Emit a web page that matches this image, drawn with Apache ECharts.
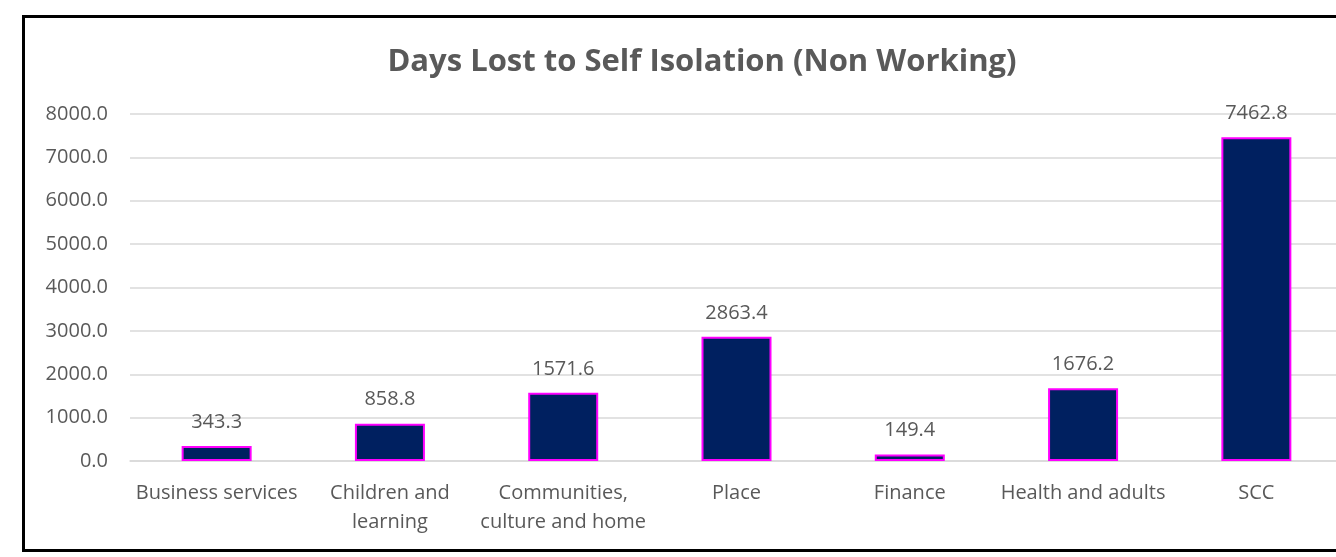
<!DOCTYPE html>
<html lang="en">
<head>
    <meta charset="UTF-8">
    <title>Days Lost to Self Isolation</title>
    <script src="https://cdn.jsdelivr.net/npm/echarts@6/dist/echarts.min.js"></script>
    <style>
        html, body { margin: 0; padding: 0; background: #fff; overflow: hidden; }
    </style>
</head>
<body>
<!-- the original chart is cut off on the right, so the canvas runs a little past the window -->
<div id="main" style="width: 1344px;height:557px;"></div>

<script>
    // categories and values
    const categories = ['Business services', 'Children and\nlearning', 'Communities,\nculture and home',
        'Place', 'Finance', 'Health and adults', 'SCC'];
    const daysLost = [343.3, 858.8, 1571.6, 2863.4, 149.4, 1676.2, 7462.8];
    const yTicks = { min: 0, max: 8000, step: 1000 };

    const font = '"Open Sans", "Liberation Sans", sans-serif';
    const grey = '#595959';

    const myChart = echarts.init(document.getElementById('main'));
    myChart.setOption({
        backgroundColor: '#fff',
        title: {
            text: 'Days Lost to Self Isolation (Non Working)',
            left: 697,
            textAlign: 'center',
            top: 42,
            textStyle: { color: grey, fontSize: 31, fontWeight: 'bold', fontFamily: font }
        },
        graphic: [{
            type: 'rect',
            shape: { x: 23.5, y: 16.5, width: 1340, height: 534 },
            style: { fill: 'none', stroke: '#000', lineWidth: 3 },
            silent: true
        }],
        grid: { left: 130, top: 114, width: 1213, height: 347 },
        xAxis: {
            type: 'category',
            data: categories,
            axisLine: { lineStyle: { color: '#d9d9d9', width: 1.5 } },
            axisTick: { show: false },
            axisLabel: {
                color: grey, fontSize: 20, fontFamily: font, margin: 18,
                lineHeight: 29, interval: 0
            }
        },
        yAxis: {
            type: 'value',
            min: yTicks.min,
            max: yTicks.max,
            interval: yTicks.step,
            axisLine: { show: false },
            axisTick: { show: false },
            splitLine: { lineStyle: { color: '#d9d9d9', width: 1.5 } },
            axisLabel: {
                color: grey, fontSize: 20, fontFamily: font, margin: 22,
                formatter: v => v.toFixed(1)
            }
        },
        series: [{
            type: 'bar',
            data: daysLost,
            barWidth: 70,
            itemStyle: { color: '#002060', borderColor: '#ff00ff', borderWidth: 2 },
            label: {
                show: true,
                position: 'top',
                distance: 14,
                color: grey,
                fontSize: 20,
                fontFamily: font,
                formatter: p => p.value.toFixed(1)
            }
        }]
    });
</script>
</body>
</html>
